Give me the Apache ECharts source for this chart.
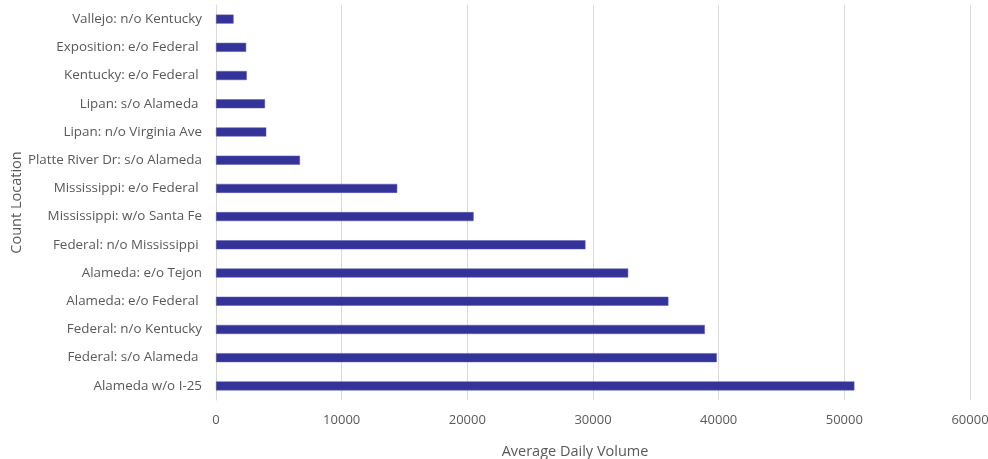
<!DOCTYPE html>
<html>
<head>
<meta charset="utf-8">
<script src="https://cdn.jsdelivr.net/npm/echarts@6/dist/echarts.min.js"></script>
<style>
  html, body { margin: 0; padding: 0; background: #ffffff; overflow: hidden; }
  #chart { width: 988px; height: 459px; }
</style>
</head>
<body>
<div id="chart"></div>
<script>
// Count locations, listed top to bottom
const locations = [
  'Vallejo: n/o Kentucky',
  'Exposition: e/o Federal ',
  'Kentucky: e/o Federal ',
  'Lipan: s/o Alameda ',
  'Lipan: n/o Virginia Ave',
  'Platte River Dr: s/o Alameda',
  'Mississippi: e/o Federal ',
  'Mississippi: w/o Santa Fe',
  'Federal: n/o Mississippi ',
  'Alameda: e/o Tejon',
  'Alameda: e/o Federal ',
  'Federal: n/o Kentucky',
  'Federal: s/o Alameda ',
  'Alameda w/o I-25'
];

// Average daily volume at each location
const dailyVolume = [
  1400, 2400, 2450, 3900, 4000, 6680, 14420,
  20500, 29400, 32800, 36000, 38900, 39850, 50800
];

// Value axis ticks
const volumeTicks = [0, 10000, 20000, 30000, 40000, 50000, 60000];

const fontFamily = '"Open Sans", "Noto Sans", sans-serif';
const textColor = '#595959';

const chart = echarts.init(document.getElementById('chart'), null, { renderer: 'canvas' });

chart.setOption({
  animation: false,
  backgroundColor: '#ffffff',
  grid: {
    left: 216, right: 18, top: 5, bottom: 59,
    containLabel: false,
    outerBoundsMode: 'none'
  },
  xAxis: {
    type: 'value',
    min: volumeTicks[0],
    max: volumeTicks[volumeTicks.length - 1],
    interval: volumeTicks[1] - volumeTicks[0],
    name: 'Average Daily Volume',
    nameLocation: 'middle',
    nameGap: 44,
    nameTextStyle: { color: textColor, fontFamily, fontSize: 14.5, padding: [0, 36, 0, 0] },
    axisLine: { show: false },
    axisTick: { show: false },
    axisLabel: {
      color: textColor, fontFamily, fontSize: 13, margin: 14,
      formatter: (v) => String(v)
    },
    splitLine: { show: true, lineStyle: { color: '#d9d9d9', width: 1 } }
  },
  yAxis: {
    type: 'category',
    data: locations,
    inverse: true,
    name: 'Count Location',
    nameLocation: 'middle',
    nameGap: 192,
    nameRotate: 90,
    nameMoveOverlap: false,
    nameTextStyle: { color: textColor, fontFamily, fontSize: 14.5 },
    axisLine: { show: true, lineStyle: { color: '#d9d9d9', width: 1 } },
    axisTick: { show: false },
    axisLabel: { color: textColor, fontFamily, fontSize: 13.4, margin: 14 },
    splitLine: { show: false }
  },
  series: [{
    type: 'bar',
    data: dailyVolume,
    barWidth: 9,
    itemStyle: { color: '#333399', borderColor: '#5a5ab0', borderWidth: 0.5 }
  }]
});
</script>
</body>
</html>
